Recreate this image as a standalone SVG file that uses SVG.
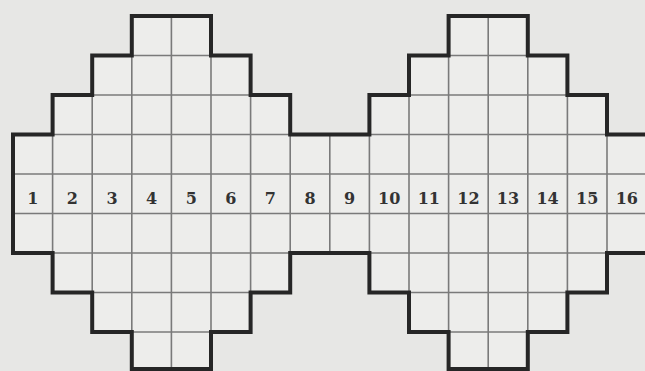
<svg xmlns="http://www.w3.org/2000/svg" width="645" height="371" viewBox="0 0 645 371">
<defs>
<style>
.grid line{stroke:#7a7a7a;stroke-width:1.6}
.outline{fill:none;stroke:#262626;stroke-width:4;stroke-linejoin:miter}
.num{font-family:"DejaVu Serif","Liberation Serif",serif;font-weight:bold;font-size:16px;fill:#333;text-anchor:middle}
</style>
<clipPath id="shape">
<path d="M650,253 H607 V292.5 H567.4 V332 H527.8 V369 H448.6 V332 H409 V292.5 H369.4 V253 H290.2 V292.5 H250.6 V332 H211 V369 H131.8 V332 H92.2 V292.5 H52.6 V253 H13 V134.5 H52.6 V95 H92.2 V55.5 H131.8 V16 H211 V55.5 H250.6 V95 H290.2 V134.5 H369.4 V95 H409 V55.5 H448.6 V16 H527.8 V55.5 H567.4 V95 H607 V134.5 H650 Z"/>
</clipPath>
</defs>
<rect width="645" height="371" fill="#e7e7e5"/>
<path d="M650,253 H607 V292.5 H567.4 V332 H527.8 V369 H448.6 V332 H409 V292.5 H369.4 V253 H290.2 V292.5 H250.6 V332 H211 V369 H131.8 V332 H92.2 V292.5 H52.6 V253 H13 V134.5 H52.6 V95 H92.2 V55.5 H131.8 V16 H211 V55.5 H250.6 V95 H290.2 V134.5 H369.4 V95 H409 V55.5 H448.6 V16 H527.8 V55.5 H567.4 V95 H607 V134.5 H650 Z" fill="#ededeb"/>
<g id="grid" class="grid" clip-path="url(#shape)">
<line x1="0" y1="55.5" x2="650" y2="55.5"/>
<line x1="0" y1="95" x2="650" y2="95"/>
<line x1="0" y1="134.5" x2="650" y2="134.5"/>
<line x1="0" y1="174" x2="650" y2="174"/>
<line x1="0" y1="213.5" x2="650" y2="213.5"/>
<line x1="0" y1="253" x2="650" y2="253"/>
<line x1="0" y1="292.5" x2="650" y2="292.5"/>
<line x1="0" y1="332" x2="650" y2="332"/>
<line x1="52.6" y1="0" x2="52.6" y2="371"/>
<line x1="92.2" y1="0" x2="92.2" y2="371"/>
<line x1="131.8" y1="0" x2="131.8" y2="371"/>
<line x1="171.4" y1="0" x2="171.4" y2="371"/>
<line x1="211" y1="0" x2="211" y2="371"/>
<line x1="250.6" y1="0" x2="250.6" y2="371"/>
<line x1="290.2" y1="0" x2="290.2" y2="371"/>
<line x1="329.8" y1="0" x2="329.8" y2="371"/>
<line x1="369.4" y1="0" x2="369.4" y2="371"/>
<line x1="409" y1="0" x2="409" y2="371"/>
<line x1="448.6" y1="0" x2="448.6" y2="371"/>
<line x1="488.2" y1="0" x2="488.2" y2="371"/>
<line x1="527.8" y1="0" x2="527.8" y2="371"/>
<line x1="567.4" y1="0" x2="567.4" y2="371"/>
<line x1="607" y1="0" x2="607" y2="371"/>
</g>
<g id="outline">
<path class="outline" d="M650,253 H607 V292.5 H567.4 V332 H527.8 V369 H448.6 V332 H409 V292.5 H369.4 V253 H290.2 V292.5 H250.6 V332 H211 V369 H131.8 V332 H92.2 V292.5 H52.6 V253 H13 V134.5 H52.6 V95 H92.2 V55.5 H131.8 V16 H211 V55.5 H250.6 V95 H290.2 V134.5 H369.4 V95 H409 V55.5 H448.6 V16 H527.8 V55.5 H567.4 V95 H607 V134.5 H650"/>
</g>
<g id="numbers">
<text class="num" x="32.8" y="204">1</text>
<text class="num" x="72.4" y="204">2</text>
<text class="num" x="112" y="204">3</text>
<text class="num" x="151.6" y="204">4</text>
<text class="num" x="191.2" y="204">5</text>
<text class="num" x="230.8" y="204">6</text>
<text class="num" x="270.4" y="204">7</text>
<text class="num" x="310" y="204">8</text>
<text class="num" x="349.6" y="204">9</text>
<text class="num" x="389.2" y="204">10</text>
<text class="num" x="428.8" y="204">11</text>
<text class="num" x="468.4" y="204">12</text>
<text class="num" x="508" y="204">13</text>
<text class="num" x="547.6" y="204">14</text>
<text class="num" x="587.2" y="204">15</text>
<text class="num" x="626.8" y="204">16</text>
</g>
</svg>
